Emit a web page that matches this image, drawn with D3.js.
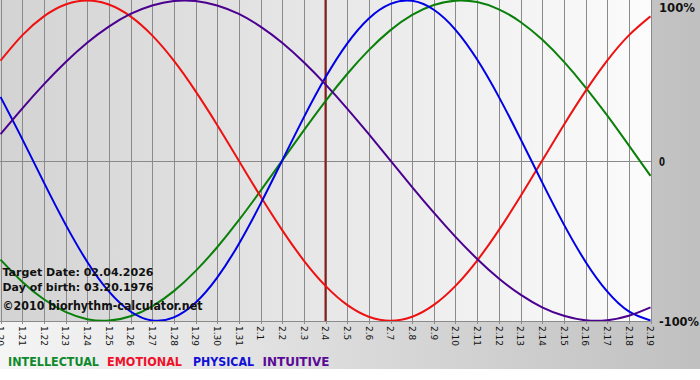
<!DOCTYPE html>
<html><head><meta charset="utf-8">
<script src="https://cdn.jsdelivr.net/npm/d3@7"></script>
<style>html,body{margin:0;padding:0;background:#fff;}svg{display:block;}</style>
</head><body>
<svg id="c" width="700" height="380"></svg>
<script>
const dayLabels = ["1.20","1.21","1.22","1.23","1.24","1.25","1.26","1.27","1.28","1.29","1.30","1.31",
  "2.1","2.2","2.3","2.4","2.5","2.6","2.7","2.8","2.9","2.10","2.11","2.12","2.13","2.14","2.15","2.16","2.17","2.18","2.19"];
const intellectual = [-0.618,-0.756,-0.866,-0.945,-0.990,-0.999,-0.972,-0.910,-0.815,-0.690,-0.541,-0.372,-0.189,0,0.189,0.372,0.541,0.690,0.815,0.910,0.972,0.999,0.990,0.945,0.866,0.756,0.618,0.458,0.282,0.095,-0.095];
const emotional = [0.624,0.782,0.901,0.975,1,0.975,0.901,0.782,0.624,0.434,0.223,0,-0.223,-0.434,-0.624,-0.782,-0.901,-0.975,-1,-0.975,-0.901,-0.782,-0.624,-0.434,-0.223,0,0.223,0.434,0.624,0.782,0.901];
const physical = [0.398,0.136,-0.136,-0.398,-0.631,-0.817,-0.942,-0.998,-0.979,-0.888,-0.731,-0.520,-0.270,0,0.270,0.520,0.731,0.888,0.979,0.998,0.942,0.817,0.631,0.398,0.136,-0.136,-0.398,-0.631,-0.817,-0.942,-0.998];
const intuitive = [0.165,0.325,0.476,0.614,0.736,0.837,0.916,0.969,0.997,0.997,0.969,0.916,0.837,0.736,0.614,0.476,0.325,0.165,0,-0.165,-0.325,-0.476,-0.614,-0.736,-0.837,-0.916,-0.969,-0.997,-0.997,-0.969,-0.916];
const targetIndex = 15;
const seriesNames = ["INTELLECTUAL","EMOTIONAL","PHYSICAL","INTUITIVE"];
const yTickLabels = ["100%","0","-100%"];
const yTickValues = [1,0,-1];
const infoLines = ["Target Date: 02.04.2026","Day of birth: 03.20.1976","©2010 biorhythm-calculator.net"];

const svg = d3.select("#c");
const W = 700, H = 380, plotR = 651, plotB = 321;
const x = d3.scaleLinear().domain([0, dayLabels.length - 1]).range([0.5, 650.5]);
const y = d3.scaleLinear().domain([-1, 1]).range([320.75, 0.5]);

const defs = svg.append("defs");
const g1 = defs.append("linearGradient").attr("id","bg").attr("x1","0").attr("x2","1").attr("y1","0").attr("y2","0");
g1.append("stop").attr("offset","0").attr("stop-color","#f5f5f5");
g1.append("stop").attr("offset","1").attr("stop-color","#c0c0c0");
const g2 = defs.append("linearGradient").attr("id","pbg").attr("x1","0").attr("x2","1").attr("y1","0").attr("y2","0");
g2.append("stop").attr("offset","0").attr("stop-color","#d3d3d3");
g2.append("stop").attr("offset","1").attr("stop-color","#fcfcfc");
defs.append("clipPath").attr("id","clip").append("rect").attr("x",0).attr("y",0).attr("width",plotR).attr("height",plotB);

svg.append("rect").attr("width",W).attr("height",H).attr("fill","#fff");
svg.append("rect").attr("width",W).attr("height",369).attr("fill","url(#bg)");
svg.append("rect").attr("width",plotR).attr("height",plotB).attr("fill","url(#pbg)");

// vertical grid
svg.append("g").selectAll("line").data(dayLabels).join("line")
  .attr("x1",(d,i)=>Math.round(x(i))+0.5).attr("x2",(d,i)=>Math.round(x(i))+0.5)
  .attr("y1",0).attr("y2",324).attr("stroke","#8a8a8a").attr("stroke-width",1);
// horizontal lines (zero, bottom)
svg.append("g").selectAll("line").data([0,-1]).join("line")
  .attr("x1",0).attr("x2",plotR).attr("y1",d=>Math.round(y(d))+0.5).attr("y2",d=>Math.round(y(d))+0.5)
  .attr("stroke","#8a8a8a").attr("stroke-width",1);

// target line
svg.append("line").attr("x1",x(targetIndex)).attr("x2",x(targetIndex)).attr("y1",0).attr("y2",plotB)
  .attr("stroke","#8b1a1a").attr("stroke-width",2);

const series = [
  {name:seriesNames[0], values:intellectual, color:"#0a800a", lcolor:"#0e8a2c"},
  {name:seriesNames[1], values:emotional, color:"#ee1111", lcolor:"#f0102a"},
  {name:seriesNames[2], values:physical, color:"#0000e6", lcolor:"#1010d8"},
  {name:seriesNames[3], values:intuitive, color:"#4b0090", lcolor:"#5a0a96"}
];
const line = d3.line().x((d,i)=>x(i)).y(d=>y(d)).curve(d3.curveNatural);
svg.append("g").attr("clip-path","url(#clip)").selectAll("path").data(series).join("path")
  .attr("d",d=>line(d.values)).attr("fill","none").attr("stroke",d=>d.color).attr("stroke-width",2);

// x labels
svg.append("g").selectAll("text").data(dayLabels).join("text")
  .attr("transform",(d,i)=>`translate(${x(i)-3.3},326) rotate(90)`)
  .attr("font-family","DejaVu Sans, Verdana, sans-serif").attr("font-size",9).attr("fill","#111")
  .text(d=>d);

// y labels
const yLabelPos = [{b:12,len:36},{b:166,len:6},{b:326,len:40}];
svg.append("g").selectAll("text").data(yTickLabels).join("text")
  .attr("x",659).attr("y",(d,i)=>yLabelPos[i].b)
  .attr("font-family","DejaVu Sans, Verdana, sans-serif").attr("font-weight","bold").attr("font-size",11.5)
  .attr("fill","#111")
  .attr("textLength",(d,i)=>yLabelPos[i].len).attr("lengthAdjust","spacingAndGlyphs")
  .text(d=>d);

// info text
const infoPos = [{b:276,len:151,fs:11},{b:291,len:151,fs:11},{b:310,len:200,fs:12}];
svg.append("g").selectAll("text").data(infoLines).join("text")
  .attr("x",2.5).attr("y",(d,i)=>infoPos[i].b)
  .attr("font-family","DejaVu Sans, Verdana, sans-serif").attr("font-weight","bold")
  .attr("font-size",(d,i)=>infoPos[i].fs).attr("fill","#111")
  .attr("textLength",(d,i)=>infoPos[i].len).attr("lengthAdjust","spacingAndGlyphs")
  .text(d=>d);

// legend
const legPos = [{x:8,len:91},{x:107,len:75},{x:193,len:61},{x:262.5,len:67}];
svg.append("g").selectAll("text").data(series).join("text")
  .attr("x",(d,i)=>legPos[i].x).attr("y",366)
  .attr("font-family","DejaVu Sans, Verdana, sans-serif").attr("font-weight","bold").attr("font-size",12.5)
  .attr("fill",d=>d.lcolor)
  .attr("textLength",(d,i)=>legPos[i].len).attr("lengthAdjust","spacingAndGlyphs")
  .text(d=>d.name);
</script>
</body></html>
